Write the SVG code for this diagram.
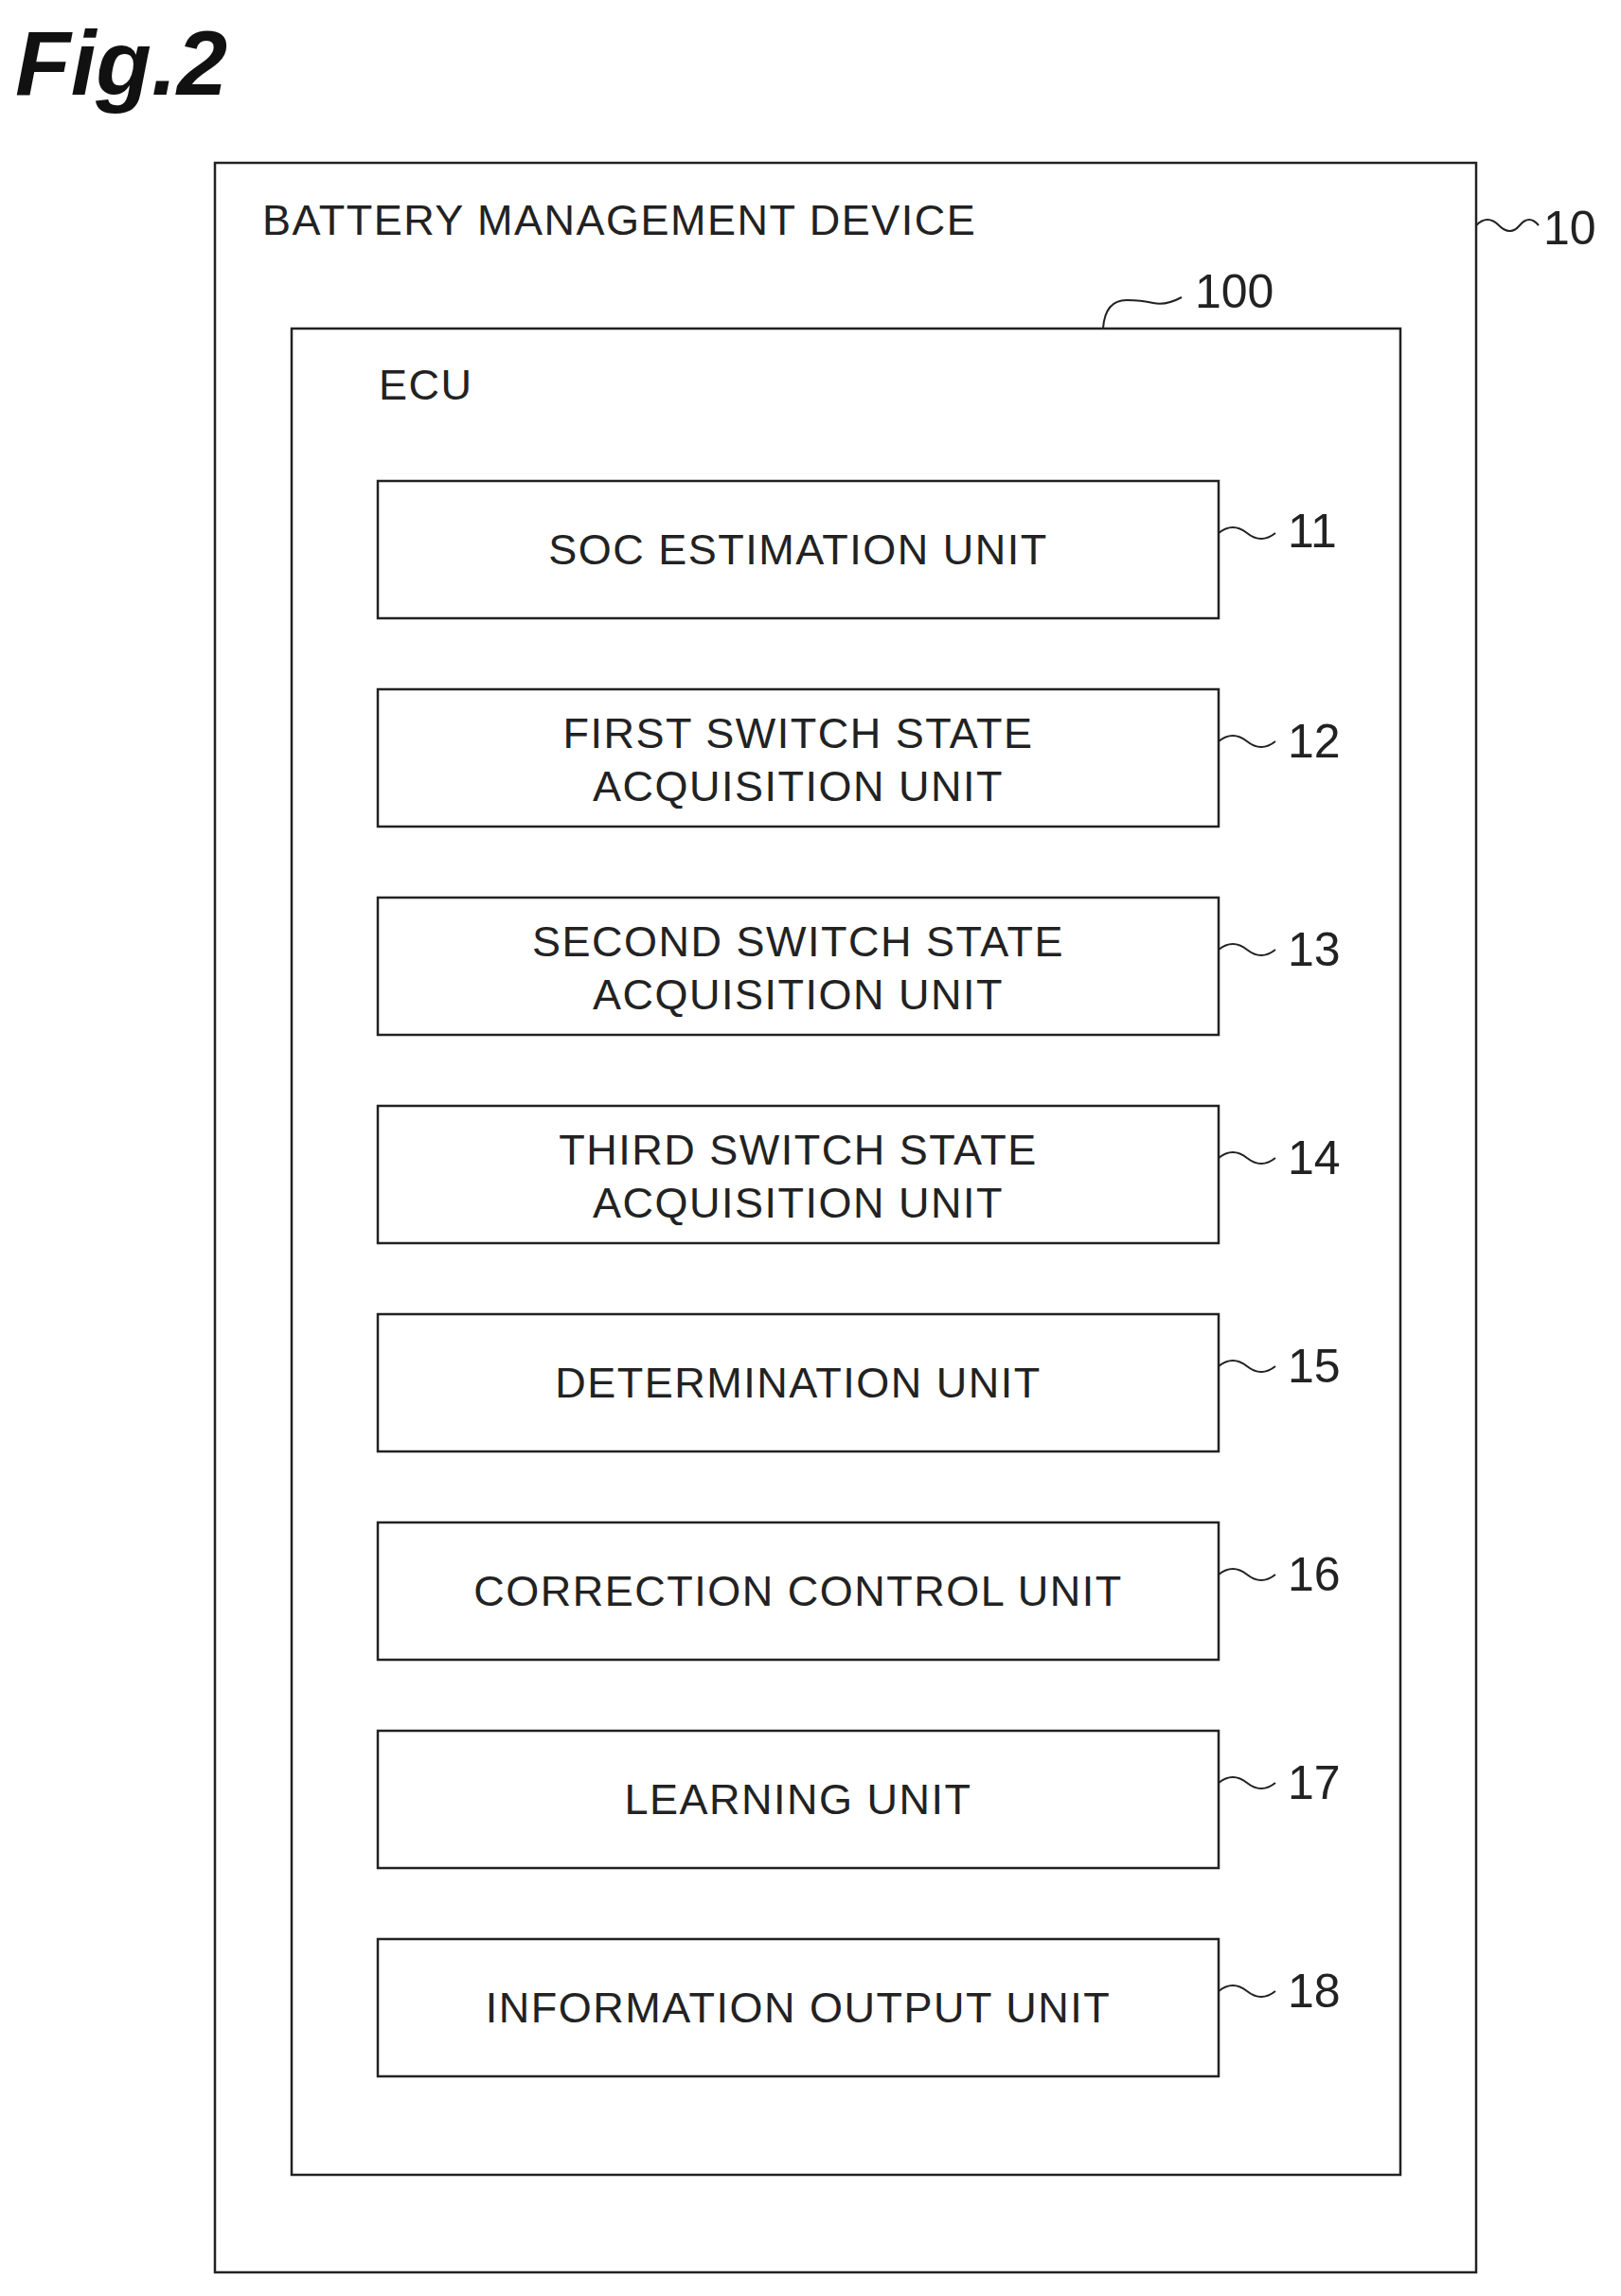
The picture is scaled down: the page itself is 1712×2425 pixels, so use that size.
<svg xmlns="http://www.w3.org/2000/svg" width="1712" height="2425" viewBox="0 0 1712 2425">
<style>
.b{fill:none;stroke:#222;stroke-width:2.5}
.t{font-family:"Liberation Sans",Arial,sans-serif;font-size:45px;fill:#222;letter-spacing:1.5px}
.c{text-anchor:middle}
.n{font-family:"Liberation Sans",Arial,sans-serif;font-size:50px;fill:#222}
.l{fill:none;stroke:#222;stroke-width:2}
</style>
<rect width="1712" height="2425" fill="#fff"/>
<text x="16" y="100" font-family="Liberation Sans,Arial,sans-serif" font-size="96" font-weight="bold" font-style="italic" fill="#111">Fig.2</text>
<g id="n10"><rect class="b" x="227" y="172" width="1332" height="2228"/><text class="t" x="277" y="248">BATTERY MANAGEMENT DEVICE</text><text class="n" x="1630" y="258">10</text></g>
<g id="n100"><rect class="b" x="308" y="347" width="1171" height="1950"/><text class="t" x="400" y="422">ECU</text><text class="n" x="1262" y="325">100</text></g>
<g id="n11"><rect class="b" x="399" y="508" width="888" height="145"/><text class="t c" x="843" y="596">SOC ESTIMATION UNIT</text><text class="n" x="1360" y="578">11</text></g>
<g id="n12"><rect class="b" x="399" y="728" width="888" height="145"/><text class="t c" x="843" y="790">FIRST SWITCH STATE</text><text class="t c" x="843" y="846">ACQUISITION UNIT</text><text class="n" x="1360" y="800">12</text></g>
<g id="n13"><rect class="b" x="399" y="948" width="888" height="145"/><text class="t c" x="843" y="1010">SECOND SWITCH STATE</text><text class="t c" x="843" y="1066">ACQUISITION UNIT</text><text class="n" x="1360" y="1020">13</text></g>
<g id="n14"><rect class="b" x="399" y="1168" width="888" height="145"/><text class="t c" x="843" y="1230">THIRD SWITCH STATE</text><text class="t c" x="843" y="1286">ACQUISITION UNIT</text><text class="n" x="1360" y="1240">14</text></g>
<g id="n15"><rect class="b" x="399" y="1388" width="888" height="145"/><text class="t c" x="843" y="1476">DETERMINATION UNIT</text><text class="n" x="1360" y="1460">15</text></g>
<g id="n16"><rect class="b" x="399" y="1608" width="888" height="145"/><text class="t c" x="843" y="1696">CORRECTION CONTROL UNIT</text><text class="n" x="1360" y="1680">16</text></g>
<g id="n17"><rect class="b" x="399" y="1828" width="888" height="145"/><text class="t c" x="843" y="1916">LEARNING UNIT</text><text class="n" x="1360" y="1900">17</text></g>
<g id="n18"><rect class="b" x="399" y="2048" width="888" height="145"/><text class="t c" x="843" y="2136">INFORMATION OUTPUT UNIT</text><text class="n" x="1360" y="2120">18</text></g>
<g id="connectors">
<path class="l" d="M1559 238 q12 -12 24 0 t22 0 t20 0"/>
<path class="l" d="M1165 347 q2 -30 25 -30 q15 0 28 3 t30 -6"/>
<path class="l" d="M1287 563 q15 -12 30 0 t30 0"/>
<path class="l" d="M1287 783 q15 -12 30 0 t30 0"/>
<path class="l" d="M1287 1003 q15 -12 30 0 t30 0"/>
<path class="l" d="M1287 1223 q15 -12 30 0 t30 0"/>
<path class="l" d="M1287 1443 q15 -12 30 0 t30 0"/>
<path class="l" d="M1287 1663 q15 -12 30 0 t30 0"/>
<path class="l" d="M1287 1883 q15 -12 30 0 t30 0"/>
<path class="l" d="M1287 2103 q15 -12 30 0 t30 0"/>
</g>
</svg>
